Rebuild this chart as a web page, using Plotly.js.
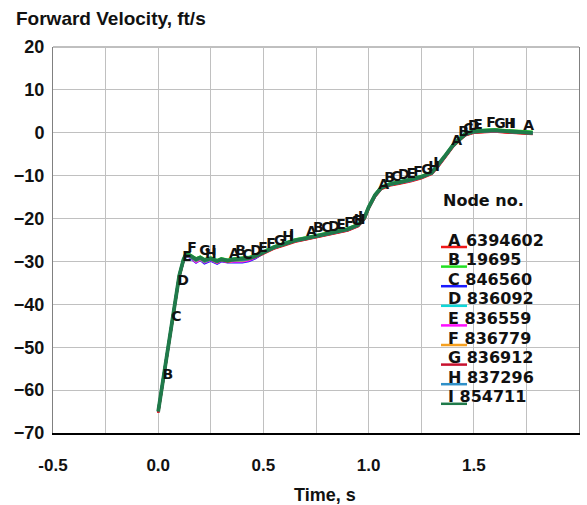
<!DOCTYPE html>
<html>
<head>
<meta charset="utf-8">
<script src="https://cdn.plot.ly/plotly-3.0.1.min.js"></script>
<style>html,body{margin:0;padding:0;background:#fff;}#chart{width:587px;height:505px;}</style>
</head>
<body>
<div id="chart"></div>
<script>
// ---- data ----
const time = [0, 0.02, 0.04, 0.06, 0.08, 0.1, 0.12, 0.13, 0.15, 0.18, 0.2, 0.22, 0.25, 0.28, 0.3, 0.33, 0.36, 0.4, 0.43, 0.46, 0.5, 0.55, 0.6, 0.65, 0.7, 0.75, 0.8, 0.85, 0.9, 0.95, 0.98, 1.0, 1.03, 1.06, 1.1, 1.15, 1.2, 1.25, 1.3, 1.33, 1.36, 1.4, 1.43, 1.46, 1.5, 1.55, 1.6, 1.65, 1.7, 1.75, 1.78];

const velA = [-65.3, -58.8, -52.3, -45.6, -39.3, -33.6, -29.9, -28.7, -28.9, -29.8, -29.4, -30.0, -29.6, -30.1, -29.8, -30.0, -29.8, -29.7, -29.5, -29.1, -28.1, -27.0, -26.2, -25.4, -24.9, -24.4, -23.9, -23.4, -22.8, -21.8, -20.1, -17.7, -14.9, -13.1, -12.3, -11.8, -11.3, -10.6, -9.6, -7.9, -5.9, -3.3, -1.8, -0.6, 0.0, 0.2, 0.3, 0.1, -0.1, -0.2, -0.3];
const velB = [-64.8, -58.3, -51.8, -45.1, -38.8, -33.1, -29.4, -28.3, -28.4, -29.3, -28.9, -29.5, -29.1, -29.7, -29.3, -29.6, -29.3, -29.2, -29.0, -28.6, -27.6, -26.5, -25.7, -24.9, -24.4, -23.9, -23.4, -22.9, -22.3, -21.3, -19.6, -17.2, -14.4, -12.6, -11.8, -11.3, -10.8, -10.1, -9.1, -7.4, -5.4, -2.8, -1.3, -0.1, 0.5, 0.7, 0.8, 0.6, 0.4, 0.3, 0.2];
const velC = [-65.0, -58.5, -52.0, -45.3, -39.0, -33.4, -29.8, -28.7, -29.0, -30.2, -29.6, -30.4, -29.8, -30.5, -29.9, -30.2, -30.1, -30.2, -29.9, -29.3, -28.0, -26.8, -26.0, -25.2, -24.7, -24.2, -23.7, -23.2, -22.6, -21.6, -19.9, -17.5, -14.7, -12.9, -12.1, -11.6, -11.1, -10.4, -9.4, -7.7, -5.7, -3.1, -1.6, -0.4, 0.2, 0.4, 0.5, 0.3, 0.1, 0.0, -0.1];
const velD = [-65.1, -58.6, -52.1, -45.4, -39.1, -33.4, -29.7, -28.6, -28.8, -29.9, -29.4, -30.0, -29.5, -30.1, -29.7, -29.9, -29.8, -29.7, -29.5, -29.0, -27.9, -26.8, -26.0, -25.2, -24.7, -24.2, -23.7, -23.2, -22.6, -21.6, -19.9, -17.5, -14.7, -12.9, -12.1, -11.6, -11.1, -10.4, -9.4, -7.7, -5.7, -3.1, -1.6, -0.4, 0.2, 0.4, 0.5, 0.3, 0.1, 0.0, -0.1];
const velE = [-65.0, -58.5, -52.0, -45.3, -39.0, -33.3, -29.7, -28.6, -28.9, -30.1, -29.5, -30.2, -29.6, -30.3, -29.8, -30.1, -30.0, -30.0, -29.7, -29.1, -27.9, -26.8, -26.0, -25.2, -24.7, -24.2, -23.7, -23.2, -22.6, -21.6, -19.9, -17.5, -14.7, -12.9, -12.1, -11.6, -11.1, -10.4, -9.4, -7.7, -5.7, -3.1, -1.6, -0.4, 0.2, 0.4, 0.5, 0.3, 0.1, 0.0, -0.1];
const velF = [-65.0, -58.5, -52.0, -45.3, -39.0, -33.3, -29.6, -28.6, -28.8, -29.9, -29.4, -30.1, -29.5, -30.2, -29.6, -30.0, -29.8, -29.8, -29.5, -29.0, -27.9, -26.8, -26.0, -25.2, -24.7, -24.2, -23.7, -23.2, -22.6, -21.6, -19.9, -17.5, -14.7, -12.9, -12.1, -11.6, -11.1, -10.4, -9.4, -7.7, -5.7, -3.1, -1.6, -0.4, 0.2, 0.4, 0.5, 0.3, 0.1, 0.0, -0.1];
const velG = [-65.2, -58.7, -52.2, -45.5, -39.2, -33.5, -29.8, -28.6, -28.8, -29.7, -29.3, -29.9, -29.5, -30.1, -29.7, -30.0, -29.7, -29.6, -29.4, -29.0, -28.0, -26.9, -26.1, -25.3, -24.8, -24.3, -23.8, -23.3, -22.7, -21.7, -20.0, -17.6, -14.8, -13.0, -12.2, -11.7, -11.2, -10.5, -9.5, -7.8, -5.8, -3.2, -1.7, -0.5, 0.1, 0.3, 0.4, 0.2, 0.0, -0.1, -0.2];
const velH = [-64.9, -58.4, -51.9, -45.2, -38.9, -33.2, -29.6, -28.6, -28.8, -29.8, -29.3, -30.0, -29.5, -30.1, -29.6, -29.9, -29.7, -29.7, -29.4, -28.9, -27.9, -26.8, -26.0, -25.2, -24.7, -24.2, -23.7, -23.2, -22.6, -21.6, -19.9, -17.5, -14.7, -12.9, -12.1, -11.6, -11.1, -10.4, -9.4, -7.7, -5.7, -3.1, -1.6, -0.4, 0.2, 0.4, 0.5, 0.3, 0.1, 0.0, -0.1];
const velI = [-65.0, -58.5, -52.0, -45.3, -39.0, -33.3, -29.6, -28.5, -28.6, -29.5, -29.1, -29.7, -29.3, -29.9, -29.5, -29.8, -29.5, -29.4, -29.2, -28.8, -27.8, -26.7, -25.9, -25.1, -24.6, -24.1, -23.6, -23.1, -22.5, -21.5, -19.8, -17.4, -14.6, -12.8, -12.0, -11.5, -11.0, -10.3, -9.3, -7.6, -5.6, -3.0, -1.5, -0.3, 0.3, 0.5, 0.6, 0.4, 0.2, 0.1, 0.0];

const letters = ["A", "B", "C", "D", "E", "F", "G", "H", "I"];
const nodeIds = ["6394602", "19695", "846560", "836092", "836559", "836779", "836912", "837296", "854711"];
const seriesVals = [velA, velB, velC, velD, velE, velF, velG, velH, velI];
const colors = ["#f01818", "#22e022", "#1a1aff", "#10d8d8", "#ff10ff", "#f5a020", "#c8102e", "#3090c8", "#1f7a4a"];

// label times along each curve (time at which the curve letter is written)
const labelA = [0.337, 0.703, 1.046, 1.393, 1.735];
const labelB = [0.02, 0.366, 0.736, 1.074, 1.426];
const labelC = [0.062, 0.399, 0.775, 1.107, 1.45];
const labelD = [0.09, 0.437, 0.808, 1.14, 1.473];
const labelE = [0.114, 0.475, 0.846, 1.18, 1.497];
const labelF = [0.138, 0.513, 0.884, 1.212, 1.559];
const labelG = [0.195, 0.55, 0.917, 1.25, 1.597];
const labelH = [0.223, 0.59, 0.93, 1.283, 1.645];
const labelI = [0.252, 0.622, 0.95, 1.307, 1.668];
const labelTimes = [labelA, labelB, labelC, labelD, labelE, labelF, labelG, labelH, labelI];

const xTickVals = [-0.5, 0.0, 0.5, 1.0, 1.5, 2.0];
const yTickVals = [-70, -60, -50, -40, -30, -20, -10, 0, 10, 20];

const xTitle = "Time, s";
const yTitle = "Forward Velocity, ft/s";
const legendTitle = "Node no.";

// ---- helpers ----
function valueAt(xs, ys, t) {
  for (let i = 0; i < xs.length - 1; i++) {
    if (t >= xs[i] && t <= xs[i + 1]) {
      const f = (t - xs[i]) / (xs[i + 1] - xs[i]);
      return ys[i] + f * (ys[i + 1] - ys[i]);
    }
  }
  return ys[ys.length - 1];
}

const W = 587, H = 505;
const M = {l: 53, r: 8, t: 47, b: 72};
const PW = W - M.l - M.r, PH = H - M.t - M.b;
const px = x => (x - M.l) / PW;
const py = y => (H - M.b - y) / PH;

const gridColor = "#c0c0c0";
const xMin = xTickVals[0], xMax = xTickVals[xTickVals.length - 1];
const yMin = yTickVals[0], yMax = yTickVals[yTickVals.length - 1];

// ---- traces ----
const traces = [];
seriesVals.forEach((v, i) => {
  traces.push({
    x: time, y: v, type: "scatter", mode: "lines",
    line: {color: colors[i], width: i === 8 ? 3.8 : 2.6},
    showlegend: false, hoverinfo: "skip"
  });
});
seriesVals.forEach((v, i) => {
  const lt = labelTimes[i];
  traces.push({
    x: lt, y: lt.map(t => valueAt(time, v, t)), type: "scatter", mode: "text",
    text: lt.map(() => letters[i]), textposition: "top right",
    textfont: {family: "DejaVu Sans", size: 14, color: "#111", weight: "bold"},
    showlegend: false, hoverinfo: "skip", cliponaxis: false
  });
});

// ---- legend (annotations + underline shapes) ----
const annotations = [];
const shapes = [];
shapes.push({
  type: "line", xref: "paper", yref: "paper", x0: 0, x1: 1, y0: 1, y1: 1,
  line: {color: "#808080", width: 1}, layer: "below"
});
annotations.push({
  xref: "paper", yref: "paper", x: px(441), y: py(200), xanchor: "left", yanchor: "middle",
  text: legendTitle, showarrow: false,
  font: {family: "DejaVu Sans", size: 16, color: "#111", weight: "bold"}
});
letters.forEach((L, i) => {
  const cy = 240 + 19.6 * i;
  annotations.push({
    xref: "paper", yref: "paper", x: px(446), y: py(cy), xanchor: "left", yanchor: "middle",
    text: L + " " + nodeIds[i], showarrow: false,
    font: {family: "DejaVu Sans", size: 16, color: "#111", weight: "bold"}
  });
  shapes.push({
    type: "line", xref: "paper", yref: "paper",
    x0: px(441), x1: px(467), y0: py(cy + 7), y1: py(cy + 7),
    line: {color: colors[i], width: 2.5}
  });
});
annotations.push({
  xref: "paper", yref: "paper", x: px(325), y: py(495), xanchor: "center", yanchor: "middle",
  text: xTitle, showarrow: false,
  font: {family: "Liberation Sans", size: 18, color: "#111", weight: "bold"}
});

const clear = "rgba(0,0,0,0)";

const layout = {
  width: W, height: H,
  margin: M,
  paper_bgcolor: "#fff", plot_bgcolor: "#fff",
  title: {
    text: yTitle, x: 16 / W, xanchor: "left", xref: "container",
    y: 1 - 18 / H, yanchor: "middle", yref: "container",
    font: {family: "Liberation Sans", size: 19, color: "#111", weight: "bold"}
  },
  xaxis: {
    range: [xMin, xMax], tickmode: "array", tickvals: xTickVals,
    ticktext: xTickVals.map(v => v.toFixed(1)),
    showgrid: true, gridcolor: gridColor, gridwidth: 1,
    minor: {tickmode: "linear", dtick: 0.25, tick0: 0, showgrid: true, gridcolor: gridColor, gridwidth: 1},
    showline: true, linecolor: "#000", linewidth: 2,
    zeroline: false, ticks: "outside", ticklen: 16, tickcolor: clear,
    tickfont: {family: "Liberation Sans", size: 17, color: "#111", weight: "bold"},
    automargin: false, fixedrange: true
  },
  yaxis: {
    range: [yMin, yMax], tickmode: "array", tickvals: yTickVals,
    showgrid: true, gridcolor: gridColor, gridwidth: 1,
    showline: true, mirror: true, linecolor: "#808080", linewidth: 1,
    zeroline: false, ticks: "outside", ticklen: 4, tickcolor: clear,
    tickfont: {family: "Liberation Sans", size: 18, color: "#111", weight: "bold"},
    automargin: false, fixedrange: true
  },
  annotations: annotations,
  shapes: shapes,
  showlegend: false
};

Plotly.newPlot("chart", traces, layout, {displayModeBar: false, staticPlot: true});
</script>
</body>
</html>
